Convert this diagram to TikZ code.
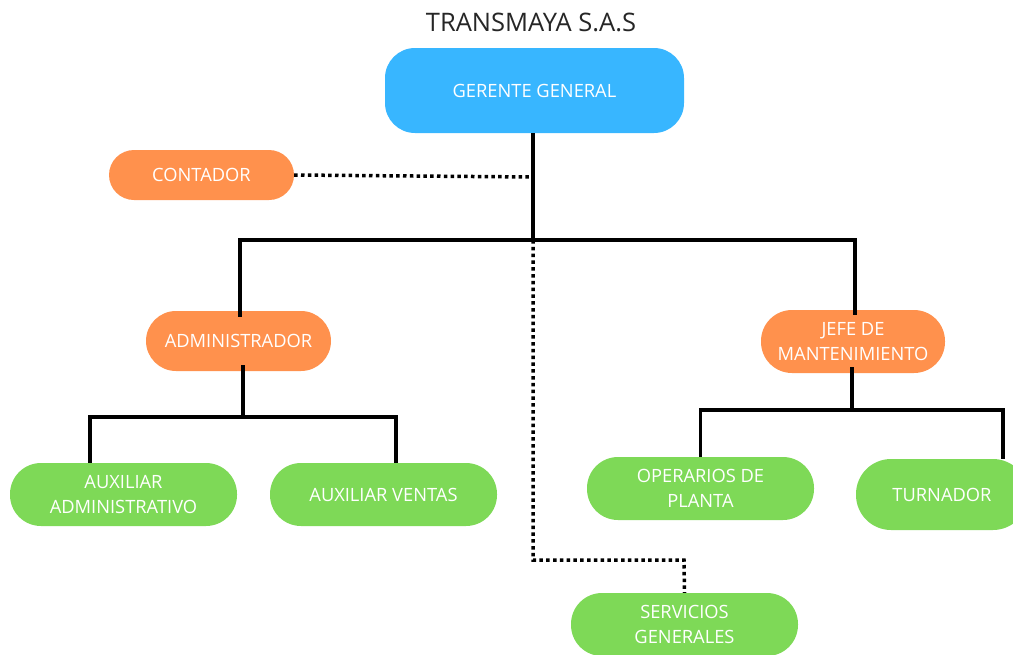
\documentclass[tikz,border=0pt]{standalone}
\usepackage{fontspec}
\setmainfont{Open Sans}
\usepackage{xcolor}
\usetikzlibrary{positioning, calc}
\definecolor{azulgerente}{HTML}{38B6FF}
\definecolor{naranjajefe}{HTML}{FF914D}
\definecolor{verdeaux}{HTML}{7ED957}

\begin{document}
\begin{tikzpicture}[x=1pt, y=-1pt,
    puesto/.style={rectangle, text=white, align=center, inner sep=0pt,
      font=\fontsize{18.3}{25}\selectfont},
    mando/.style={puesto, fill=naranjajefe, minimum width=185pt},
    auxiliar/.style={puesto, fill=verdeaux, minimum width=227pt, minimum height=63pt, rounded corners=31pt},
    rama/.style={line width=3.5pt},
    punteo/.style={line width=3.5pt, dash pattern=on 3.5pt off 3.3pt}]
    \useasboundingbox (0,0) rectangle (1013,654);

    % Titulo
    \node[font=\fontsize{25.5}{28}\selectfont, text=black!85] (titulo) at (531,22) {TRANSMAYA S.A.S};

    % Gerencia
    \node[puesto, fill=azulgerente, minimum width=299pt, minimum height=85pt, rounded corners=30pt] (gerente) at (534.5,90.5) {GERENTE GENERAL};
    \node[mando, minimum height=50pt, rounded corners=25pt] (contador) at (201.5,175) {CONTADOR};

    % Jefaturas
    \node[mando, minimum height=60pt, rounded corners=30pt] (admin) at (238.5,341) {ADMINISTRADOR};
    \node[mando, minimum width=184pt, minimum height=63pt, rounded corners=31pt] (jefe) at (853,341.5) {JEFE DE\\MANTENIMIENTO};

    % Auxiliares
    \node[auxiliar] (auxadm) at (123.5,494.5) {AUXILIAR\\ADMINISTRATIVO};
    \node[auxiliar] (auxven) at (383.5,494.5) {AUXILIAR VENTAS};
    \node[auxiliar] (operarios) at (700.5,488.5) {OPERARIOS DE\\PLANTA};
    \node[auxiliar, minimum width=172pt, minimum height=71pt, rounded corners=35pt] (turnador) at (942,494.5) {TURNADOR};
    \node[auxiliar] (servicios) at (684.5,624.5) {SERVICIOS\\GENERALES};

    % Puntos de union
    \coordinate (cruce) at (533,240);
    \coordinate (asesor) at (533,177);
    \coordinate (unionadm) at (243,417);
    \coordinate (unionjefe) at (852,410);
    \coordinate (desvio) at (684,560);

    % Conexiones
    \draw[rama] ([xshift=-1.5pt]gerente.south) -- (cruce);
    \draw[rama] ([xshift=1.5pt, yshift=-6pt]admin.north) |- (cruce) -| ([xshift=2pt, yshift=-5pt]jefe.north);
    \draw[punteo] (contador.east) -- (asesor);
    \draw[punteo] (cruce) |- (desvio) -- (servicios.north);

    \draw[rama] ([xshift=4.5pt, yshift=6pt]admin.south) -- (unionadm);
    \draw[rama] ([xshift=-33.5pt]auxadm.north) |- (unionadm) -| ([xshift=12.5pt]auxven.north);

    \draw[rama] ([xshift=-1pt, yshift=6pt]jefe.south) -- (unionjefe);
    \draw[rama] (operarios.north) |- (unionjefe) -| ([xshift=61pt]turnador.north);
\end{tikzpicture}
\end{document}
